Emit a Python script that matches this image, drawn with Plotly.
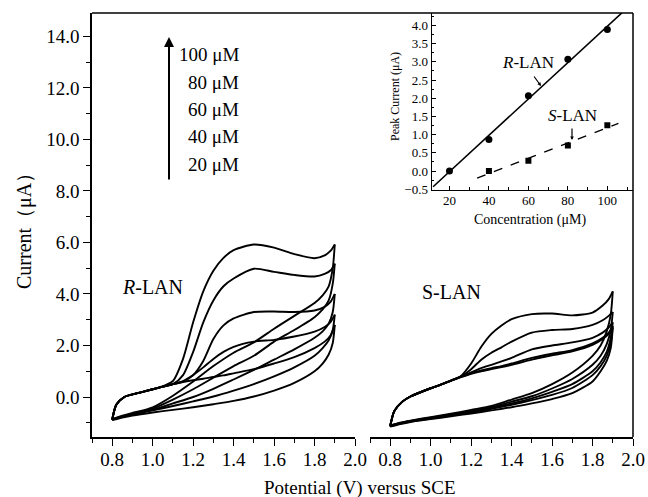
import numpy as np
import plotly.graph_objects as go

W, H = 648, 497

# ---------------- data ----------------
V_FWD = [0.80, 0.82, 0.86, 0.90, 1.00, 1.05, 1.10, 1.15, 1.20, 1.25, 1.30, 1.35, 1.40, 1.50, 1.60, 1.70, 1.80, 1.85, 1.88, 1.90]
V_REV = [1.90, 1.89, 1.87, 1.84, 1.80, 1.70, 1.60, 1.50, 1.40, 1.30, 1.20, 1.10, 1.00, 0.90, 0.85, 0.80]

R_F100 = [-0.85, -0.30, 0.00, 0.10, 0.30, 0.42, 0.62, 1.48, 2.90, 4.10, 4.90, 5.40, 5.70, 5.92, 5.80, 5.55, 5.39, 5.50, 5.68, 5.92]
R_F80 = [-0.87, -0.30, 0.00, 0.10, 0.30, 0.40, 0.50, 0.85, 1.75, 2.90, 3.75, 4.30, 4.60, 4.98, 4.86, 4.74, 4.68, 4.78, 4.92, 5.18]
R_F60 = [-0.88, -0.30, 0.00, 0.10, 0.30, 0.40, 0.50, 0.60, 0.85, 1.40, 2.25, 2.78, 3.05, 3.30, 3.32, 3.30, 3.36, 3.50, 3.70, 4.00]
R_F40 = [-0.88, -0.30, 0.00, 0.10, 0.30, 0.40, 0.50, 0.62, 0.85, 1.15, 1.48, 1.75, 1.95, 2.15, 2.22, 2.35, 2.54, 2.72, 2.92, 3.20]
R_F20 = [-0.90, -0.30, 0.00, 0.10, 0.30, 0.40, 0.50, 0.58, 0.65, 0.71, 0.78, 0.84, 0.92, 1.08, 1.30, 1.55, 1.90, 2.15, 2.40, 2.80]

R_R100 = [5.92, 5.00, 4.30, 3.95, 3.65, 3.15, 2.65, 2.12, 1.72, 1.20, 0.60, 0.05, -0.40, -0.62, -0.72, -0.85]
R_R80 = [5.18, 4.40, 3.75, 3.40, 3.10, 2.60, 2.15, 1.60, 1.20, 0.75, 0.30, -0.10, -0.45, -0.65, -0.75, -0.87]
R_R60 = [4.00, 3.30, 2.85, 2.55, 2.30, 1.85, 1.45, 1.05, 0.68, 0.32, 0.00, -0.25, -0.50, -0.67, -0.76, -0.88]
R_R40 = [3.20, 2.60, 2.20, 1.90, 1.60, 1.15, 0.80, 0.50, 0.25, 0.02, -0.17, -0.35, -0.52, -0.68, -0.77, -0.88]
R_R20 = [2.80, 2.10, 1.65, 1.30, 1.00, 0.55, 0.25, 0.02, -0.15, -0.28, -0.40, -0.50, -0.60, -0.72, -0.80, -0.90]

S_F100 = [-1.10, -0.55, -0.18, 0.02, 0.34, 0.48, 0.64, 0.82, 1.30, 1.95, 2.45, 2.78, 3.02, 3.22, 3.24, 3.17, 3.28, 3.55, 3.80, 4.10]
S_F80 = [-1.12, -0.55, -0.18, 0.02, 0.34, 0.48, 0.64, 0.80, 1.08, 1.45, 1.72, 1.93, 2.15, 2.50, 2.60, 2.64, 2.80, 2.98, 3.15, 3.30]
S_F60 = [-1.13, -0.55, -0.18, 0.02, 0.34, 0.48, 0.64, 0.79, 0.96, 1.12, 1.25, 1.38, 1.52, 1.85, 2.00, 2.12, 2.30, 2.50, 2.70, 2.90]
S_F40 = [-1.14, -0.55, -0.18, 0.02, 0.34, 0.48, 0.64, 0.78, 0.92, 1.03, 1.12, 1.20, 1.30, 1.52, 1.68, 1.82, 2.08, 2.30, 2.50, 2.75]
S_F20 = [-1.15, -0.55, -0.18, 0.02, 0.34, 0.48, 0.63, 0.77, 0.90, 1.00, 1.08, 1.16, 1.25, 1.45, 1.62, 1.77, 2.02, 2.25, 2.45, 2.70]

S_R100 = [4.10, 3.20, 2.55, 2.00, 1.60, 0.95, 0.50, 0.15, -0.10, -0.35, -0.50, -0.65, -0.78, -0.92, -1.00, -1.10]
S_R80 = [3.30, 2.60, 2.05, 1.60, 1.25, 0.70, 0.33, 0.03, -0.18, -0.40, -0.55, -0.68, -0.80, -0.93, -1.01, -1.12]
S_R60 = [2.90, 2.30, 1.75, 1.35, 1.00, 0.50, 0.20, -0.05, -0.25, -0.43, -0.57, -0.70, -0.82, -0.94, -1.02, -1.13]
S_R40 = [2.75, 2.10, 1.60, 1.20, 0.85, 0.35, 0.08, -0.12, -0.30, -0.46, -0.60, -0.72, -0.84, -0.95, -1.03, -1.14]
S_R20 = [2.70, 1.90, 1.40, 1.00, 0.60, 0.15, -0.08, -0.25, -0.40, -0.52, -0.64, -0.75, -0.86, -0.97, -1.05, -1.15]

CONC_LABELS = ["100 μM", "80 μM", "60 μM", "40 μM", "20 μM"]

INSET_R_CONC = [20, 40, 60, 80, 100]
INSET_R_PEAK = [0.00, 0.87, 2.07, 3.07, 3.89]
INSET_S_CONC = [40, 60, 80, 100]
INSET_S_PEAK = [0.00, 0.285, 0.70, 1.26]

# ---------------- helpers ----------------
def fx(px):
    return px / W

def fy(py):
    return 1 - py / H

FONT = "Liberation Serif"
LINE = dict(color="black", width=1.9, shape="spline", smoothing=0.7)

fig = go.Figure()

for f in [R_F100, R_F80, R_F60, R_F40, R_F20]:
    fig.add_trace(go.Scatter(x=V_FWD, y=f, mode="lines", line=LINE, xaxis="x", yaxis="y"))
for r in [R_R100, R_R80, R_R60, R_R40, R_R20]:
    fig.add_trace(go.Scatter(x=V_REV, y=r, mode="lines", line=LINE, xaxis="x", yaxis="y"))
for f in [S_F100, S_F80, S_F60, S_F40, S_F20]:
    fig.add_trace(go.Scatter(x=V_FWD, y=f, mode="lines", line=LINE, xaxis="x2", yaxis="y"))
for r in [S_R100, S_R80, S_R60, S_R40, S_R20]:
    fig.add_trace(go.Scatter(x=V_REV, y=r, mode="lines", line=LINE, xaxis="x2", yaxis="y"))

# inset
INSET_XR = [11, 113]
INSET_YR = [-0.52, 4.34]
kr = np.polyfit(INSET_R_CONC, INSET_R_PEAK, 1)
ks = np.polyfit(INSET_S_CONC, INSET_S_PEAK, 1)
xr_line = np.linspace(INSET_XR[0] + 0.7, INSET_XR[1], 50)
xs_line = np.linspace(34, 105.6, 50)
fig.add_trace(go.Scatter(x=xr_line, y=np.polyval(kr, xr_line), mode="lines",
                         line=dict(color="black", width=1.6), xaxis="x3", yaxis="y3"))
fig.add_trace(go.Scatter(x=xs_line, y=np.polyval(ks, xs_line), mode="lines",
                         line=dict(color="black", width=1.4, dash="dash"), xaxis="x3", yaxis="y3"))
fig.add_trace(go.Scatter(x=INSET_R_CONC, y=INSET_R_PEAK, mode="markers",
                         marker=dict(symbol="circle", size=7, color="black"), xaxis="x3", yaxis="y3"))
fig.add_trace(go.Scatter(x=INSET_S_CONC, y=INSET_S_PEAK, mode="markers",
                         marker=dict(symbol="square", size=6, color="black"), xaxis="x3", yaxis="y3"))

main_x = dict(range=[0.7, 2.0], showline=True, linecolor="black", linewidth=1.5,
              ticks="outside", ticklen=7, tickwidth=1.3, tickcolor="black",
              tick0=0, dtick=0.2, tickformat=".1f", showgrid=False, zeroline=False,
              tickfont=dict(size=19, family=FONT, color="black"), ticklabelstandoff=-3,
              minor=dict(ticks="outside", ticklen=4, tickwidth=1.2, tickcolor="black", dtick=0.1, tick0=0),
              anchor="y", automargin=False, fixedrange=True)

fig.update_layout(
    width=W, height=H,
    margin=dict(l=0, r=0, t=0, b=0),
    paper_bgcolor="white", plot_bgcolor="white",
    showlegend=False,
    font=dict(family=FONT, color="black"),
    xaxis=dict(main_x, domain=[fx(92), fx(355)]),
    xaxis2=dict(main_x, domain=[fx(370), fx(633)]),
    yaxis=dict(domain=[fy(437), fy(13)], range=[-1.553, 14.91], anchor="x",
               showline=True, linecolor="black", linewidth=1.5,
               ticks="outside", ticklen=7, tickwidth=1.3, tickcolor="black",
               tick0=0, dtick=2, tickformat=".1f", showgrid=False, zeroline=False,
               tickfont=dict(size=19, family=FONT, color="black"),
               minor=dict(ticks="outside", ticklen=4, tickwidth=1.2, tickcolor="black", dtick=1, tick0=0),
               automargin=False),
    xaxis3=dict(domain=[fx(431.7), fx(633)], range=INSET_XR, anchor="y3",
                showline=True, linecolor="black", linewidth=1.3,
                ticks="inside", ticklen=4, tickwidth=1, tickcolor="black",
                tick0=0, dtick=20, showgrid=False, zeroline=False,
                tickfont=dict(size=13, family=FONT, color="black"), ticklabelstandoff=-2,
                minor=dict(ticks="inside", ticklen=3, tickwidth=1, tickcolor="black", dtick=10, tick0=0),
                automargin=False),
    yaxis3=dict(domain=[fy(190), fy(13)], range=INSET_YR, anchor="x3",
                showline=True, linecolor="black", linewidth=1.3,
                ticks="inside", ticklen=4, tickwidth=1, tickcolor="black",
                tick0=0, dtick=0.5, tickformat=".1f", showgrid=False, zeroline=False,
                tickfont=dict(size=13, family=FONT, color="black"),
                minor=dict(ticks="inside", ticklen=2.5, tickwidth=1, tickcolor="black", dtick=0.25, tick0=0),
                automargin=False),
)

# frame: top and right borders
fig.add_shape(type="line", xref="paper", yref="paper", x0=fx(92), x1=fx(633), y0=fy(13), y1=fy(13),
              line=dict(color="black", width=1.5))
fig.add_shape(type="line", xref="paper", yref="paper", x0=fx(633), x1=fx(633), y0=fy(13), y1=fy(437),
              line=dict(color="black", width=1.5))

ann = []
def text(px, py, s, size, angle=0, xanchor="center"):
    ann.append(dict(x=fx(px), y=fy(py), xref="paper", yref="paper", text=s, showarrow=False,
                    font=dict(size=size, family=FONT, color="black"), textangle=angle,
                    xanchor=xanchor, yanchor="middle"))

text(24, 226, "Current（μA）", 20, angle=-90)
text(360, 488, "Potential (V) versus SCE", 19)
text(152, 287, "<i>R</i>-LAN", 20)
text(451, 292, "S-LAN", 20)
for i, lab in enumerate(CONC_LABELS):
    text(241, 55 + i * 27.3, lab, 19, xanchor="right")
text(395, 97, "Peak Current (μA)", 12, angle=-90)
text(530, 220, "Concentration (μM)", 14)
text(528, 62, "<i>R</i>-LAN", 17)
text(572, 116, "<i>S</i>-LAN", 17)

# concentration arrow
ann.append(dict(x=fx(169), y=fy(37), xref="paper", yref="paper", ax=0, ay=144,
                axref="pixel", ayref="pixel", text="", showarrow=True,
                arrowhead=2, arrowsize=1, arrowwidth=2, arrowcolor="black"))
# inset pointer arrows
ann.append(dict(x=fx(541), y=fy(86), xref="paper", yref="paper", ax=-8, ay=-11,
                text="", showarrow=True, arrowhead=2, arrowsize=0.6, arrowwidth=1.2, arrowcolor="black"))
ann.append(dict(x=fx(572), y=fy(140), xref="paper", yref="paper", ax=0, ay=-13,
                text="", showarrow=True, arrowhead=2, arrowsize=0.6, arrowwidth=1.2, arrowcolor="black"))

fig.update_layout(annotations=ann)

fig.write_html("out.html")
